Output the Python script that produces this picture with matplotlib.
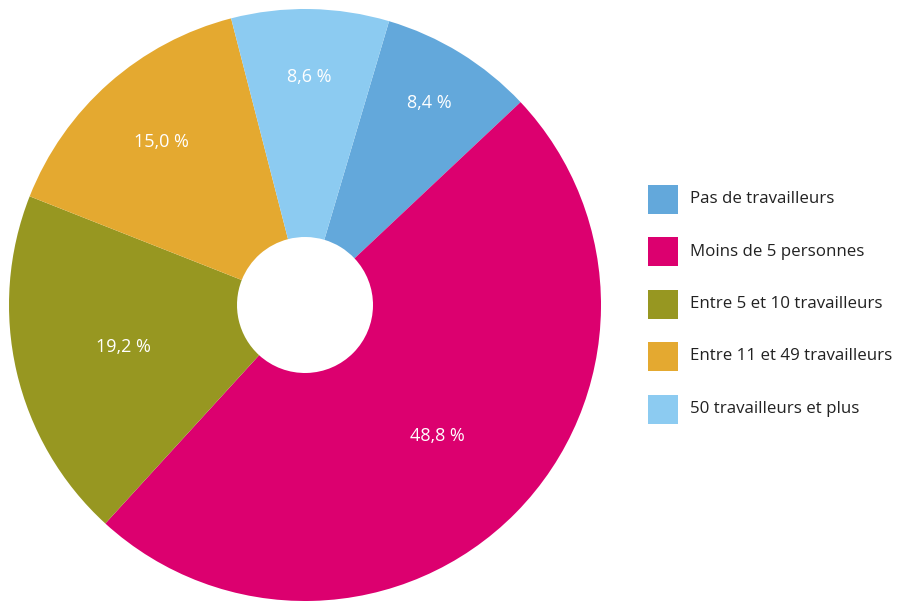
import numpy as np
import matplotlib.pyplot as plt
from matplotlib.patches import Rectangle

labels = ["Pas de travailleurs", "Moins de 5 personnes", "Entre 5 et 10 travailleurs",
          "Entre 11 et 49 travailleurs", "50 travailleurs et plus"]
values = [8.4, 48.8, 19.2, 15.0, 8.6]
colors = ["#63A8DB", "#DC006F", "#979721", "#E4A930", "#8CCBF1"]
# radial position of each percentage label (fraction of radius)
label_r = [0.80, 0.63, 0.63, 0.735, 0.77]

plt.rcParams['font.family'] = ['Open Sans', 'DejaVu Sans']

fig = plt.figure(figsize=(8.98, 6.01), dpi=100)
ax = fig.add_axes([0, 0, 1, 1])

R = 296
cx, cy = 305, 296
wedges, _ = ax.pie(values, colors=colors, startangle=73.5, counterclock=False,
                   radius=R, center=(cx, cy), frame=True,
                   wedgeprops=dict(width=R - 68, linewidth=0))
ax.set_xlim(0, 898)
ax.set_ylim(0, 601)
ax.set_aspect('equal')
ax.axis('off')

for w, v, f in zip(wedges, values, label_r):
    ang = np.deg2rad((w.theta1 + w.theta2) / 2)
    ax.text(cx + f * R * np.cos(ang), cy + f * R * np.sin(ang),
            f"{v:.1f} %".replace('.', ','), color='white', fontsize=13,
            ha='center', va='center')

# legend drawn by hand: square swatch + label
for i, (lab, col) in enumerate(zip(labels, colors)):
    yc = 601 - (199 + i * 52.5)
    ax.add_patch(Rectangle((648, yc - 14.5), 30, 29, color=col, linewidth=0))
    ax.text(690, yc, lab, fontsize=12.2, color='#222222', ha='left', va='center')

fig.savefig("out.png", dpi=100)
